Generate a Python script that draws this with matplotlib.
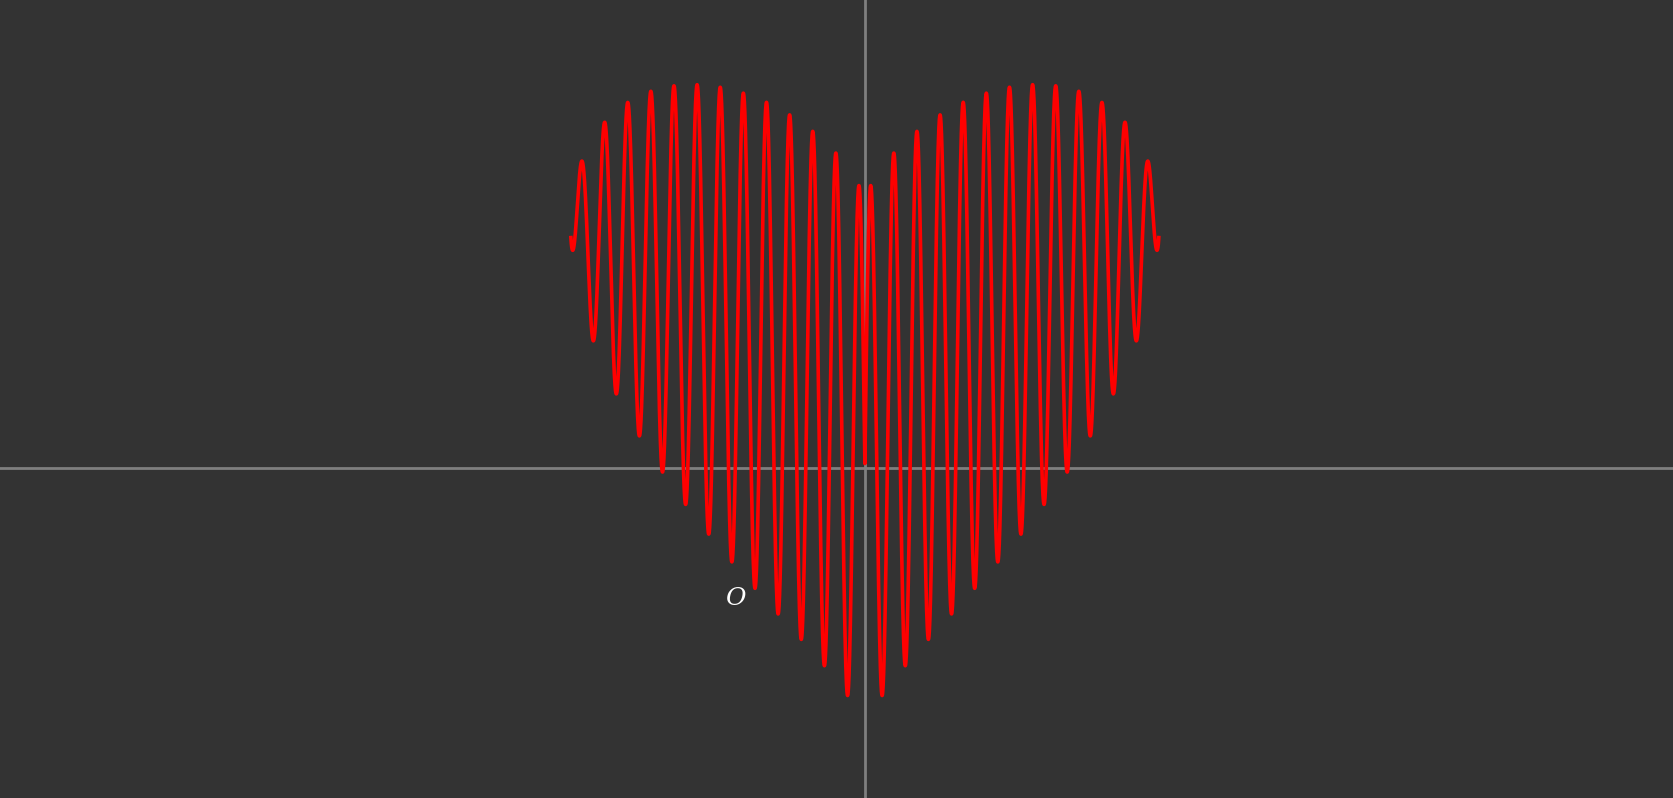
import numpy as np
import matplotlib.pyplot as plt

# heart curve parameters
freq = 14          # sin(freq * pi * |x|)
amp = 0.9          # amplitude factor
radius_sq = 3.3    # sqrt(radius_sq - x^2) envelope
x_max = 1.815      # where the drawn curve stops on each side
label_text = "O"
label_pos = (-0.8, -0.81)
x_lim = (-5.34, 4.99)
y_lim = (-2.04, 2.89)

x = np.linspace(-x_max, x_max, 6000)
y = np.abs(x) ** (2 / 3) + amp * np.sqrt(radius_sq - x ** 2) * np.sin(freq * np.pi * np.abs(x))

fig = plt.figure(figsize=(16.73, 7.98), dpi=100, facecolor="#333333")
ax = fig.add_axes([0, 0, 1, 1])
ax.set_facecolor("#333333")

# axis lines through the origin
ax.axhline(0, color="#7f7f7f", lw=2, zorder=1)
ax.axvline(0, color="#7f7f7f", lw=2, zorder=1)

ax.plot(x, y, color="red", lw=2.6, zorder=2)
ax.text(label_pos[0], label_pos[1], label_text, color="white", fontsize=18,
        family="DejaVu Serif", style="italic", ha="center", va="center")

ax.set_xlim(*x_lim)
ax.set_ylim(*y_lim)
for s in ax.spines.values():
    s.set_visible(False)
ax.set_xticks([])
ax.set_yticks([])

fig.savefig("out.png", dpi=100, facecolor=fig.get_facecolor())
